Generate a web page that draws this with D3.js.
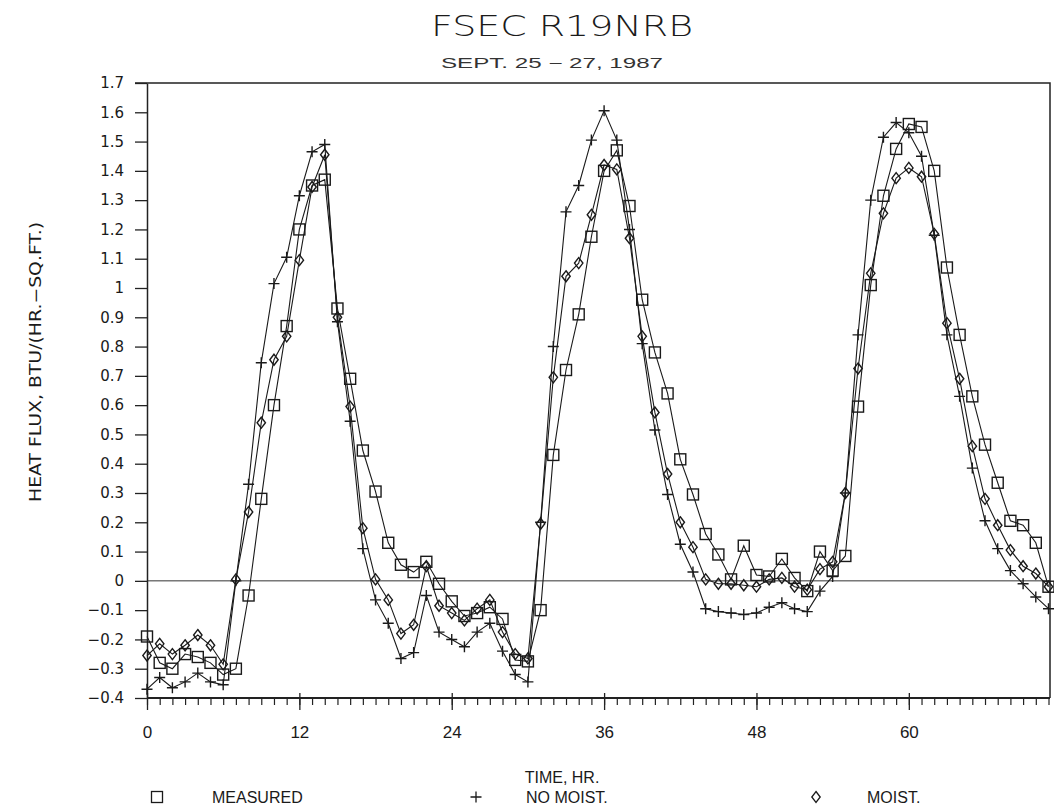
<!DOCTYPE html>
<html>
<head>
<meta charset="utf-8">
<script src="https://cdn.jsdelivr.net/npm/d3@7"></script>
<style>
  body { margin: 0; background: #fff; }
  svg text { fill: #1a1a1a; }
</style>
</head>
<body>
<svg id="chart" width="1054" height="810"></svg>
<script>
// hourly values, hour 0 .. 71
var measured = [-0.19, -0.28, -0.30, -0.25, -0.26, -0.28, -0.32, -0.30, -0.05, 0.28,
    0.60, 0.87, 1.20, 1.35, 1.37, 0.93, 0.69, 0.445, 0.305, 0.13,
    0.055, 0.03, 0.065, -0.01, -0.07, -0.12, -0.11, -0.09, -0.13, -0.27,
    -0.275, -0.10, 0.43, 0.72, 0.91, 1.175, 1.40, 1.47, 1.28, 0.96,
    0.78, 0.64, 0.415, 0.295, 0.16, 0.09, 0.005, 0.12, 0.02, 0.015,
    0.075, 0.01, -0.035, 0.10, 0.035, 0.085, 0.595, 1.01, 1.315, 1.475,
    1.56, 1.55, 1.40, 1.07, 0.84, 0.63, 0.465, 0.335, 0.205, 0.19,
    0.13, -0.02];

var noMoist = [-0.37, -0.33, -0.365, -0.345, -0.315, -0.345, -0.355, 0.00, 0.33, 0.745,
    1.015, 1.105, 1.315, 1.465, 1.49, 0.885, 0.545, 0.11, -0.065, -0.145,
    -0.265, -0.245, -0.05, -0.175, -0.20, -0.225, -0.175, -0.145, -0.24, -0.32,
    -0.345, 0.20, 0.80, 1.26, 1.35, 1.505, 1.605, 1.505, 1.20, 0.81,
    0.515, 0.295, 0.125, 0.03, -0.095, -0.105, -0.11, -0.115, -0.11, -0.09,
    -0.075, -0.095, -0.105, -0.035, 0.015, 0.30, 0.84, 1.30, 1.515, 1.565,
    1.53, 1.45, 1.18, 0.84, 0.63, 0.385, 0.205, 0.11, 0.035, -0.01,
    -0.055, -0.095];

var moist = [-0.255, -0.215, -0.25, -0.22, -0.185, -0.22, -0.285, 0.005, 0.235, 0.54,
    0.755, 0.835, 1.095, 1.345, 1.455, 0.90, 0.595, 0.18, 0.005, -0.065,
    -0.18, -0.15, 0.05, -0.085, -0.11, -0.135, -0.095, -0.065, -0.175, -0.25,
    -0.265, 0.195, 0.695, 1.04, 1.085, 1.25, 1.42, 1.405, 1.17, 0.835,
    0.575, 0.365, 0.20, 0.115, 0.005, -0.01, -0.01, -0.015, -0.02, 0.005,
    0.01, -0.02, -0.03, 0.04, 0.065, 0.30, 0.725, 1.05, 1.255, 1.375,
    1.41, 1.38, 1.185, 0.88, 0.69, 0.46, 0.28, 0.19, 0.105, 0.05,
    0.025, -0.02];

var xTicks = [0, 12, 24, 36, 48, 60];
var yTicks = [1.7, 1.6, 1.5, 1.4, 1.3, 1.2, 1.1, 1, 0.9, 0.8, 0.7, 0.6, 0.5, 0.4,
    0.3, 0.2, 0.1, 0, -0.1, -0.2, -0.3, -0.4];
var seriesNames = ['MEASURED', 'NO MOIST.', 'MOIST.'];

var svg = d3.select('#chart');
var plotLeft = 147, plotRight = 1050, plotTop = 83, plotBottom = 698;

var x = d3.scaleLinear().domain([0, 71]).range([plotLeft, 1048.5]);
var y = d3.scaleLinear().domain([-0.4, 1.7]).range([plotBottom, plotTop]);

// title
svg.append('text').attr('x', 562).attr('y', 36).attr('text-anchor', 'middle')
    .attr('textLength', 262).attr('lengthAdjust', 'spacingAndGlyphs')
    .style('font-family', 'DejaVu Sans').style('font-weight', 200).style('font-size', '29px')
    .text('FSEC R19NRB');
svg.append('text').attr('x', 552).attr('y', 68).attr('text-anchor', 'middle')
    .attr('textLength', 222).attr('lengthAdjust', 'spacingAndGlyphs')
    .style('font-family', 'Liberation Sans').style('font-size', '14px').style('fill', '#333')
    .text('SEPT. 25 \u2212 27, 1987');

// zero line
svg.append('line').attr('x1', plotLeft).attr('x2', plotRight).attr('y1', y(0)).attr('y2', y(0))
    .attr('stroke', '#333').attr('stroke-width', 1);

// frame
svg.append('path')
    .attr('d', 'M' + (plotLeft - 12) + ',' + plotTop + 'H' + plotRight + 'V' + plotBottom)
    .attr('fill', 'none').attr('stroke', '#222').attr('stroke-width', 1.5);

// y axis
var yAxis = svg.append('g').attr('transform', 'translate(' + plotLeft + ',0)')
    .call(d3.axisLeft(y).tickValues(yTicks).tickSizeInner(12).tickSizeOuter(0).tickPadding(11)
        .tickFormat(function (d) { return String(d).replace('-', '\u2212'); }));
yAxis.select('.domain').attr('stroke', '#222').attr('stroke-width', 1.5);
yAxis.selectAll('.tick line').attr('stroke', '#222').attr('stroke-width', 1.3);
yAxis.selectAll('.tick text').style('font-family', 'DejaVu Sans').style('font-size', '15px')
    .attr('fill', '#1a1a1a');

// x axis: minor hourly ticks then the labelled ones
var minor = svg.append('g').attr('transform', 'translate(0,' + plotBottom + ')')
    .call(d3.axisBottom(x).tickValues(measured.map(function (d, i) { return i; }))
        .tickSizeInner(7).tickSizeOuter(0).tickFormat(''));
minor.select('.domain').attr('stroke', '#222').attr('stroke-width', 2)
    .attr('d', 'M' + plotLeft + ',0H' + plotRight);
minor.selectAll('.tick line').attr('stroke', '#222').attr('stroke-width', 1.2);

var xAxis = svg.append('g').attr('transform', 'translate(0,' + plotBottom + ')')
    .call(d3.axisBottom(x).tickValues(xTicks).tickSizeInner(12).tickSizeOuter(0).tickPadding(16));
xAxis.select('.domain').remove();
xAxis.selectAll('.tick line').attr('stroke', '#222').attr('stroke-width', 1.3).attr('y1', -5);
xAxis.selectAll('.tick text').style('font-family', 'Liberation Sans').style('font-size', '17px')
    .attr('fill', '#1a1a1a');

// axis titles
svg.append('text').attr('transform', 'translate(41,362) rotate(-90)').attr('text-anchor', 'middle')
    .attr('textLength', 280).attr('lengthAdjust', 'spacingAndGlyphs')
    .style('font-family', 'DejaVu Sans').style('font-size', '15px')
    .text('HEAT FLUX, BTU/(HR.\u2212SQ.FT.)');
svg.append('text').attr('x', 562).attr('y', 783).attr('text-anchor', 'middle')
    .style('font-family', 'Liberation Sans').style('font-size', '16px')
    .text('TIME, HR.');

// markers
function square(g) {
    g.append('rect').attr('x', -5.5).attr('y', -5.5).attr('width', 11).attr('height', 11);
}
function plus(g) {
    g.append('path').attr('d', 'M-5.5,0H5.5M0,-5.5V5.5');
}
function diamond(g) {
    g.append('path').attr('d', 'M0,-5.5L4.2,0L0,5.5L-4.2,0Z');
}

var series = [
    { name: seriesNames[0], values: measured, marker: square },
    { name: seriesNames[1], values: noMoist, marker: plus },
    { name: seriesNames[2], values: moist, marker: diamond }
];

var line = d3.line()
    .x(function (d, i) { return x(i); })
    .y(function (d) { return y(d); });

series.forEach(function (s) {
    svg.append('path').datum(s.values).attr('d', line)
        .attr('fill', 'none').attr('stroke', '#1a1a1a').attr('stroke-width', 1.1);
});

series.forEach(function (s) {
    var pts = svg.append('g').attr('fill', 'none').attr('stroke', '#1a1a1a').attr('stroke-width', 1.4)
        .selectAll('g').data(s.values).enter().append('g')
        .attr('transform', function (d, i) { return 'translate(' + x(i) + ',' + y(d) + ')'; });
    pts.each(function () { s.marker(d3.select(this)); });
});

// legend
var legendX = [{ sym: 157, txt: 212 }, { sym: 476, txt: 526 }, { sym: 816, txt: 867 }];
series.forEach(function (s, i) {
    var g = svg.append('g').attr('transform', 'translate(' + legendX[i].sym + ',797)')
        .attr('fill', 'none').attr('stroke', '#1a1a1a').attr('stroke-width', 1.3);
    s.marker(g);
    svg.append('text').attr('x', legendX[i].txt).attr('y', 803)
        .style('font-family', 'Liberation Sans').style('font-size', '16px')
        .text(s.name);
});
</script>
</body>
</html>
